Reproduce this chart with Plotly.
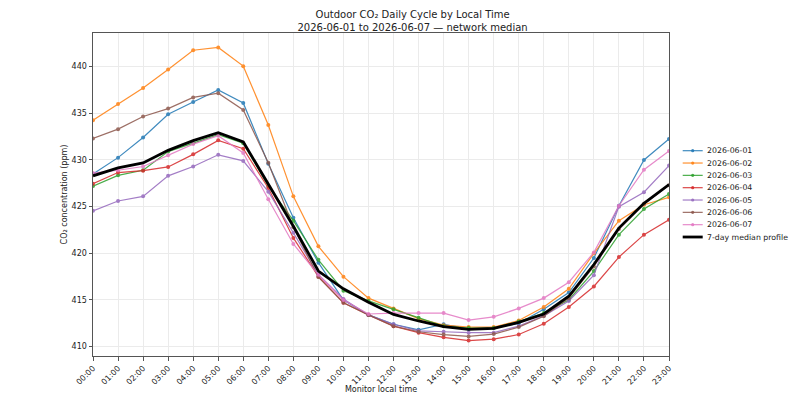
import plotly.graph_objects as go

# hours of the day
hours = [f'{h:02d}:00' for h in range(24)]

# hourly CO2 (ppm) per day
d0601 = [428.5, 430.25, 432.4, 434.9, 436.2, 437.5, 436.1, 429.6, 423.8, 419.0, 415.0, 413.4,
         412.4, 411.8, 412.4, 411.9, 412.0, 412.5, 414.0, 415.8, 419.5, 425.1, 430.0, 432.25]
d0602 = [434.25, 436.0, 437.7, 439.7, 441.75, 442.05, 440.05, 433.75, 426.1, 420.75, 417.5, 415.2,
         414.1, 413.0, 412.3, 412.1, 412.1, 412.8, 414.25, 416.2, 420.0, 423.5, 425.2, 426.0]
d0603 = [427.2, 428.35, 428.9, 430.9, 431.8, 432.7, 431.8, 427.2, 423.5, 419.3, 416.0, 414.9,
         414.0, 413.1, 412.2, 412.0, 412.0, 412.7, 413.6, 415.0, 418.1, 422.0, 424.75, 426.35]
d0604 = [427.45, 428.65, 428.85, 429.25, 430.6, 432.1, 431.2, 427.0, 421.65, 417.5, 414.7, 413.4,
         412.2, 411.5, 411.0, 410.65, 410.8, 411.3, 412.45, 414.25, 416.45, 419.6, 422.0, 423.6]
d0605 = [424.55, 425.6, 426.1, 428.3, 429.3, 430.55, 429.9, 426.6, 422.2, 417.7, 415.1, 413.4,
         412.4, 411.7, 411.6, 411.5, 411.5, 412.2, 413.3, 414.9, 417.65, 425.0, 426.55, 429.4]
d0606 = [432.3, 433.3, 434.65, 435.5, 436.7, 437.15, 435.35, 429.7, 422.8, 417.45, 414.7, 413.4,
         412.2, 411.6, 411.3, 411.1, 411.35, 412.1, 413.25, 415.2, 418.6, 422.6, 425.3, 427.3]
d0607 = [428.6, 428.9, 429.3, 430.5, 431.7, 432.6, 430.75, 425.8, 421.0, 417.7, 415.0, 413.5,
         413.6, 413.6, 413.6, 412.85, 413.2, 414.1, 415.2, 416.9, 420.1, 425.1, 428.95, 430.95]
median = [428.3, 429.15, 429.68, 431.03, 432.07, 432.93, 431.93, 427.4, 422.9, 418.1, 416.2, 414.75,
          413.45, 412.75, 412.14, 411.86, 411.96, 412.6, 413.5, 415.4, 418.8, 422.7, 425.35, 427.37]

days = ['2026-06-01', '2026-06-02', '2026-06-03', '2026-06-04', '2026-06-05', '2026-06-06', '2026-06-07']
series = [d0601, d0602, d0603, d0604, d0605, d0606, d0607]
colors = ['#1f77b4', '#ff7f0e', '#2ca02c', '#d62728', '#9467bd', '#8c564b', '#e377c2']

# figure size / plot area in figure pixels (the page puts the figure 8px in, so keep it
# smaller than the window to avoid scrollbars)
W, H = 790, 386
L, T, R, B = 85, 25, 661, 348


def px(x):
    return (x - L) / (R - L)


def py(y):
    return (B - y) / (B - T)


fig = go.Figure()
for name, vals, col in zip(days, series, colors):
    fig.add_trace(go.Scatter(x=list(range(24)), y=vals, name=name, mode='lines+markers',
                             line=dict(color=col, width=1.2), marker=dict(color=col, size=4),
                             opacity=0.85, showlegend=False))

fig.add_trace(go.Scatter(x=list(range(24)), y=median, name='7-day median profile', mode='lines',
                         line=dict(color='black', width=2.8), showlegend=False))

# hand-made legend (matplotlib-like compact spacing)
names = days + ['7-day median profile']
cols = colors + ['black']
for i, (nm, col) in enumerate(zip(names, cols)):
    yy = 142.7 + 12.33 * i
    is_med = i == len(days)
    fig.add_shape(type='line', xref='paper', yref='paper', x0=px(674.7), x1=px(694.7),
                  y0=py(yy), y1=py(yy), line=dict(color=col, width=2.8 if is_med else 1.2),
                  opacity=1 if is_med else 0.85)
    if not is_med:
        r = 1.6
        fig.add_shape(type='circle', xref='paper', yref='paper', x0=px(684.7 - r), x1=px(684.7 + r),
                      y0=py(yy + r), y1=py(yy - r), fillcolor=col, line=dict(width=0), opacity=0.85)
    fig.add_annotation(text=nm, xref='paper', yref='paper', x=px(697.2), y=py(yy),
                       xanchor='left', yanchor='middle', showarrow=False,
                       font=dict(size=7.8, color='#222'))

axis_style = dict(showline=True, linecolor='#555', linewidth=1, mirror=True,
                  showgrid=True, gridcolor='#ebebeb', gridwidth=1, zeroline=False,
                  ticks='outside', ticklen=3.5, tickcolor='#555', automargin=False,
                  tickfont=dict(size=8, color='#222'))

fig.update_layout(
    width=W, height=H,
    margin=dict(l=L, r=W - R, t=T, b=H - B, autoexpand=False),
    paper_bgcolor='white', plot_bgcolor='white',
    font=dict(family='DejaVu Sans', size=8, color='#222'),
    title=dict(text='Outdoor CO₂ Daily Cycle by Local Time<br>2026-06-01 to 2026-06-07 — network median',
               x=px(380), xanchor='center', yref='container', y=1 - 9.5 / H, yanchor='middle',
               font=dict(size=10)),
    showlegend=False,
)
fig.update_xaxes(axis_style, range=[0, 23], tickmode='array', tickvals=list(range(24)),
                 ticktext=hours, tickangle=-45,
                 title=dict(text='Monitor local time', font=dict(size=8), standoff=4))
fig.update_yaxes(axis_style, range=[409.0, 443.6], tickvals=[410, 415, 420, 425, 430, 435, 440],
                 title=dict(text='CO₂ concentration (ppm)', font=dict(size=8), standoff=2))

fig.write_html('out.html')
